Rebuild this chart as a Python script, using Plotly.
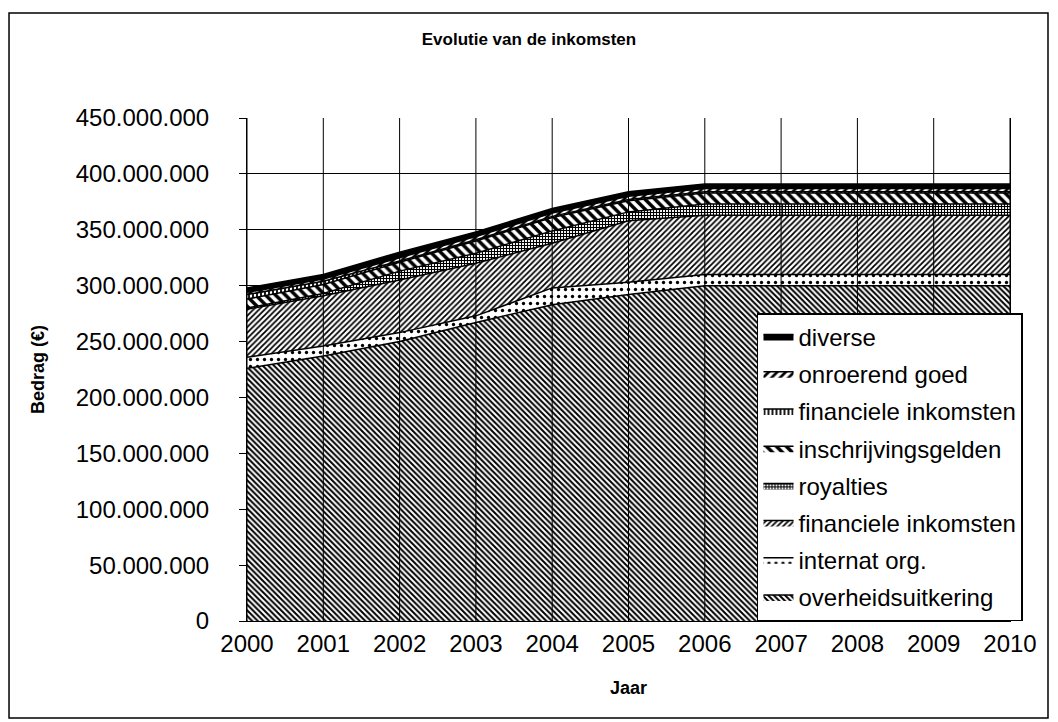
import plotly.graph_objects as go

years = [2000, 2001, 2002, 2003, 2004, 2005, 2006, 2007, 2008, 2009, 2010]

# values in millions of euro
overheidsuitkering = [226, 237, 250, 267, 283, 292, 300, 300, 300, 300, 300]
internat_org = [10, 9, 8, 6, 15, 11, 10, 10, 10, 10, 10]
financiele_inkomsten_2 = [43, 45, 47, 47, 40, 55, 53, 53, 53, 53, 53]
royalties = [1, 2, 8, 9, 11, 8, 10, 10, 10, 10, 10]
inschrijvingsgelden = [8, 8, 8, 11, 12, 10, 10, 10, 10, 10, 10]
financiele_inkomsten_1 = [4, 3, 1, 1, 1, 1, 1, 1, 1, 1, 1]
onroerend_goed = [2, 2, 3, 3, 3, 3, 3, 3, 3, 3, 3]
diverse = [4, 4, 5, 4, 4, 4, 4, 4, 4, 4, 4]

y_ticks = [0, 50e6, 100e6, 150e6, 200e6, 250e6, 300e6, 350e6, 400e6, 450e6]

series = [
    ("overheidsuitkering", overheidsuitkering, dict(shape="\\", size=4, solidity=0.5)),
    ("internat org.", internat_org, dict(shape=".", size=7, solidity=0.18)),
    ("financiele inkomsten", financiele_inkomsten_2, dict(shape="/", size=4, solidity=0.45)),
    ("royalties", royalties, dict(shape="+", size=3, solidity=0.6)),
    ("inschrijvingsgelden", inschrijvingsgelden, dict(shape="\\", size=7, solidity=0.5)),
    ("financiele inkomsten", financiele_inkomsten_1, dict(shape="|", size=4, solidity=0.45)),
    ("onroerend goed", onroerend_goed, dict(shape="/", size=6, solidity=0.45)),
    ("diverse", diverse, None),
]

FONT = "Arial, Liberation Sans, sans-serif"
W, H = 1050, 714

fig = go.Figure()
n = len(series)
for i, (name, vals, pat) in enumerate(series):
    kw = dict(
        x=years,
        y=[v * 1e6 for v in vals],
        name=name,
        mode="lines",
        stackgroup="one",
        legendgroup=f"g{i}",
        legendrank=n - i,
        line=dict(color="black", width=1.5),
    )
    if pat is None:
        kw["fillcolor"] = "black"
    else:
        kw["fillcolor"] = "white"
        kw["fillpattern"] = dict(fgcolor="black", bgcolor="white", fillmode="replace", **pat)
    fig.add_trace(go.Scatter(**kw))

# vertical gridlines drawn over the areas (as in the reference)
for yr in years:
    fig.add_shape(type="line", xref="x", yref="paper", x0=yr, x1=yr, y0=0, y1=1,
                  line=dict(color="black", width=1), layer="above")

# outer chart frame
fig.add_shape(type="rect", xref="paper", yref="paper",
              x0=-0.3119, x1=1.0498, y0=-0.1928, y1=1.2087,
              line=dict(color="black", width=1.5), layer="below")

fig.update_layout(
    width=W, height=H,
    margin=dict(l=239, r=48, t=110, b=101),
    paper_bgcolor="white", plot_bgcolor="white",
    separators=",.",
    font=dict(family=FONT, size=24, color="black"),
    title=dict(text="<b>Evolutie van de inkomsten</b>", x=521 / W, xref="container", xanchor="center",
               y=1 - 31 / H, yref="container", yanchor="middle",
               font=dict(family=FONT, size=17, color="black")),
    showlegend=True,
    legend=dict(
        x=0.6684, xanchor="left", y=0.6123, yanchor="top",
        bgcolor="white", bordercolor="black", borderwidth=1.5,
        traceorder="grouped", tracegroupgap=3,
        font=dict(family=FONT, size=24, color="black"),
    ),
    xaxis=dict(
        range=[2000, 2010], tickvals=years, ticktext=[str(y) for y in years],
        showgrid=False, zeroline=False, showline=True, linecolor="black", linewidth=1,
        ticks="", ticklabelstandoff=1,
        title=dict(text="<b>Jaar</b>", font=dict(family=FONT, size=18, color="black"), standoff=25),
    ),
    yaxis=dict(
        range=[0, 450e6], tickvals=y_ticks, tickformat=",.0f",
        showgrid=True, gridcolor="black", gridwidth=1, zeroline=False,
        showline=True, linecolor="black", linewidth=1, mirror=True,
        ticks="outside", ticklen=7, tickcolor="black",
        ticklabelstandoff=25,
        title=dict(text="<b>Bedrag (€)</b>", font=dict(family=FONT, size=18, color="black"), standoff=26),
    ),
)

fig.write_html("out.html")
